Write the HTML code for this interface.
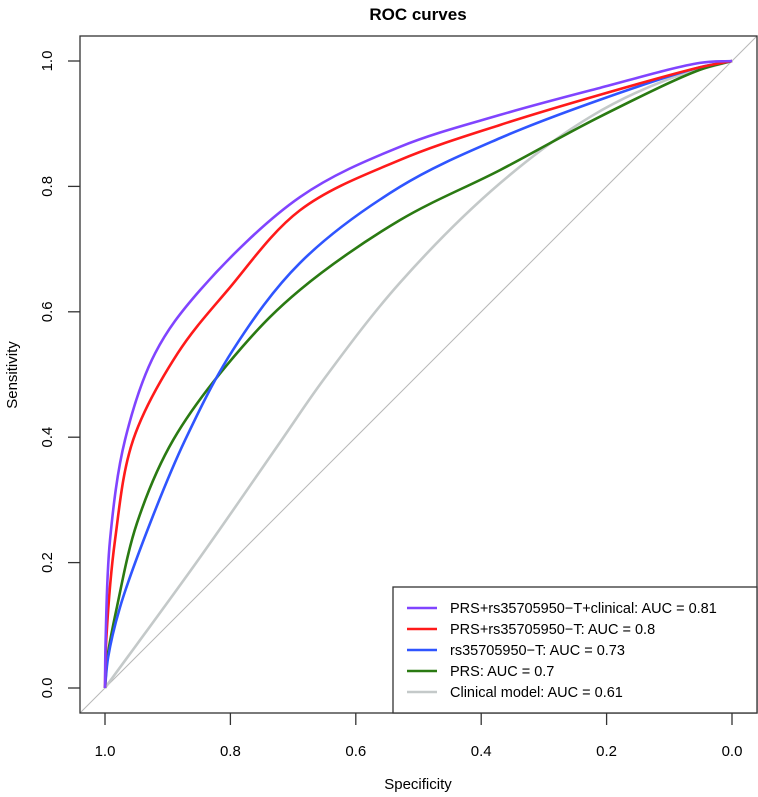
<!DOCTYPE html>
<html><head><meta charset="utf-8"><style>
html,body{margin:0;padding:0;background:#fff;}
svg{display:block;font-family:"Liberation Sans",Arial,sans-serif;}
</style></head><body>
<svg id="chart" width="758" height="797" viewBox="0 0 758 797">
<defs><clipPath id="plotclip"><rect x="80" y="36" width="677" height="677"/></clipPath></defs>
<text x="418" y="20" text-anchor="middle" font-size="17" font-weight="bold">ROC curves</text>
<line x1="80" y1="713" x2="757" y2="36" stroke="#b8b8b8" stroke-width="1" clip-path="url(#plotclip)"/>
<g id="curves" clip-path="url(#plotclip)"></g>
<rect x="80" y="36" width="677" height="677" fill="none" stroke="#333" stroke-width="1.3"/>
<g id="xaxis"></g>
<g id="yaxis"></g>
<text x="418" y="789" text-anchor="middle" font-size="15">Specificity</text>
<text transform="translate(17,375) rotate(-90)" text-anchor="middle" font-size="15">Sensitivity</text>
<g id="legend">
<rect x="393" y="587" width="364" height="126" fill="#fff" stroke="#333" stroke-width="1.3"/>
</g>
</svg>
<script>
const ticks = [1.0, 0.8, 0.6, 0.4, 0.2, 0.0];
const tickLabels = ["1.0", "0.8", "0.6", "0.4", "0.2", "0.0"];
const seriesNames = ["PRS+rs35705950\u2212T+clinical: AUC = 0.81", "PRS+rs35705950\u2212T: AUC = 0.8", "rs35705950\u2212T: AUC = 0.73", "PRS: AUC = 0.7", "Clinical model: AUC = 0.61"];
const seriesColors = ["#8044ff", "#ff1a1a", "#2f55ff", "#2a7a12", "#c4c9c9"];
const specPurple = [1, 0.999, 0.992, 0.968, 0.920, 0.848, 0.689, 0.530, 0.370, 0.211, 0.051, 0];
const sensPurple = [0, 0.077, 0.236, 0.396, 0.534, 0.635, 0.783, 0.863, 0.914, 0.957, 0.997, 1];
const specRed = [1, 0.998, 0.984, 0.955, 0.884, 0.804, 0.689, 0.530, 0.370, 0.211, 0.051, 0];
const sensRed = [0, 0.077, 0.236, 0.396, 0.534, 0.635, 0.762, 0.842, 0.898, 0.946, 0.99, 1];
const specBlue = [1, 0.995, 0.976, 0.928, 0.872, 0.796, 0.689, 0.530, 0.370, 0.211, 0.051, 0];
const sensBlue = [0, 0.049, 0.129, 0.263, 0.396, 0.539, 0.678, 0.799, 0.877, 0.938, 0.99, 1];
const specGreen = [1, 0.996, 0.981, 0.949, 0.891, 0.781, 0.689, 0.530, 0.370, 0.211, 0.051, 0];
const sensGreen = [0, 0.05, 0.129, 0.263, 0.396, 0.544, 0.635, 0.746, 0.826, 0.911, 0.986, 1];
const specGray = [1, 0.848, 0.718, 0.652, 0.530, 0.370, 0.226, 0.104, 0];
const sensGray = [0, 0.209, 0.396, 0.491, 0.646, 0.805, 0.911, 0.970, 1];

const NS = "http://www.w3.org/2000/svg";
function xScale(s){ return 105 + (1 - s) * 627; }
function yScale(v){ return 688 - v * 627; }
function pathFrom(specs, sens){
  // centripetal Catmull-Rom through points in pixel space
  const p = specs.map((s,i)=>[xScale(s), yScale(sens[i])]);
  const n = p.length;
  const pts = [[2*p[0][0]-p[1][0], 2*p[0][1]-p[1][1]]].concat(p, [[2*p[n-1][0]-p[n-2][0], 2*p[n-1][1]-p[n-2][1]]]);
  const dist = (a,b)=>Math.pow(Math.hypot(a[0]-b[0], a[1]-b[1]) || 1e-6, 0.5);
  let d = "M"+p[0][0]+","+p[0][1];
  for (let i=1;i<pts.length-2;i++){
    const p0=pts[i-1], p1=pts[i], p2=pts[i+1], p3=pts[i+2];
    const d1=dist(p0,p1), d2=dist(p1,p2), d3=dist(p2,p3);
    const c1=[0,1].map(k=>(d1*d1*p2[k] - d2*d2*p0[k] + (2*d1*d1+3*d1*d2+d2*d2)*p1[k])/(3*d1*(d1+d2)));
    const c2=[0,1].map(k=>(d3*d3*p1[k] - d2*d2*p3[k] + (2*d3*d3+3*d3*d2+d2*d2)*p2[k])/(3*d3*(d3+d2)));
    d += " C"+c1[0]+","+c1[1]+" "+c2[0]+","+c2[1]+" "+p2[0]+","+p2[1];
  }
  return d;
}
const curves = document.getElementById("curves");
const seriesData = [[specGray,sensGray,4],[specGreen,sensGreen,3],[specBlue,sensBlue,2],[specRed,sensRed,1],[specPurple,sensPurple,0]];
const curveNames = ["clinical-curve","prs-curve","rs-curve","prs-rs-curve","prs-rs-clinical-curve"];
seriesData.forEach((sd, k)=>{
  const path = document.createElementNS(NS,"path");
  path.setAttribute("d", pathFrom(sd[0], sd[1]));
  path.setAttribute("fill","none");
  path.setAttribute("stroke", seriesColors[sd[2]]);
  path.setAttribute("stroke-width","2.6");
  
  
  curves.appendChild(path);
});
const xaxis = document.getElementById("xaxis");
const yaxis = document.getElementById("yaxis");
ticks.forEach((t,i)=>{
  const x = xScale(t);
  const l = document.createElementNS(NS,"line");
  l.setAttribute("x1",x); l.setAttribute("x2",x); l.setAttribute("y1",713); l.setAttribute("y2",725);
  l.setAttribute("stroke","#333"); l.setAttribute("stroke-width","1.3");
  
  
  xaxis.appendChild(l);
  const tx = document.createElementNS(NS,"text");
  tx.setAttribute("x",x); tx.setAttribute("y",756); tx.setAttribute("text-anchor","middle"); tx.setAttribute("font-size","15");
  tx.textContent = tickLabels[i];
  
  
  xaxis.appendChild(tx);
  const y = yScale(t);
  const l2 = document.createElementNS(NS,"line");
  l2.setAttribute("x1",68); l2.setAttribute("x2",80); l2.setAttribute("y1",y); l2.setAttribute("y2",y);
  l2.setAttribute("stroke","#333"); l2.setAttribute("stroke-width","1.3");
  
  
  yaxis.appendChild(l2);
  const ty = document.createElementNS(NS,"text");
  ty.setAttribute("transform","translate(52,"+y+") rotate(-90)"); ty.setAttribute("text-anchor","middle"); ty.setAttribute("font-size","15");
  ty.textContent = tickLabels[i];
  
  
  yaxis.appendChild(ty);
});
const legend = document.getElementById("legend");
seriesNames.forEach((n,i)=>{
  const y = 608 + i*21;
  const l = document.createElementNS(NS,"line");
  l.setAttribute("x1",407); l.setAttribute("x2",437); l.setAttribute("y1",y); l.setAttribute("y2",y);
  l.setAttribute("stroke",seriesColors[i]); l.setAttribute("stroke-width","2.6");
  
  
  legend.appendChild(l);
  const t = document.createElementNS(NS,"text");
  t.setAttribute("x",450); t.setAttribute("y",y+5); t.setAttribute("font-size","14.5");
  t.textContent = n;
  
  
  legend.appendChild(t);
});
</script>
</body></html>
